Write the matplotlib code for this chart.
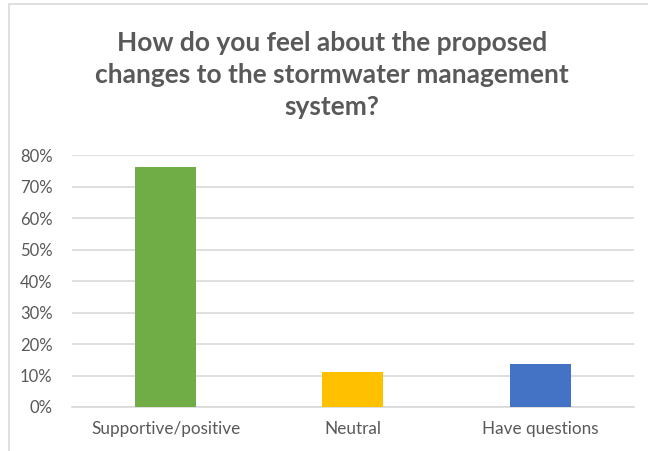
import matplotlib.pyplot as plt
from matplotlib.patches import Rectangle
from matplotlib.ticker import PercentFormatter

categories = ["Supportive/positive", "Neutral", "Have questions"]
shares = [76.2, 11.1, 13.6]
colors = ["#70AD47", "#FFC000", "#4472C4"]
yticks = [0, 10, 20, 30, 40, 50, 60, 70, 80]

plt.rcParams['font.family'] = ['Lato', 'DejaVu Sans']

fig = plt.figure(figsize=(6.48, 4.51), dpi=100)
ax = fig.add_axes([0.111, 0.0976, 0.867, 0.5584])

# chart frame
fig.patches.append(Rectangle((9 / 648, -0.1), 1.2, 1 - 4 / 451 + 0.1,
                             transform=fig.transFigure, fill=False,
                             edgecolor="#D9D9D9", linewidth=1.2))

x = range(len(categories))
ax.bar(x, shares, width=0.325, color=colors, zorder=3)

ax.set_xlim(-0.5, 2.5)
ax.set_ylim(0, 80)
ax.set_yticks(yticks)
ax.yaxis.set_major_formatter(PercentFormatter(decimals=0))
ax.set_xticks(list(x))
ax.set_xticklabels(categories)
ax.grid(axis='y', color="#D9D9D9", linewidth=1.2, zorder=0)
for s in ['top', 'right', 'left']:
    ax.spines[s].set_visible(False)
ax.spines['bottom'].set_color("#D9D9D9")
ax.spines['bottom'].set_linewidth(1.2)
ax.tick_params(length=0, labelsize=12.3, labelcolor="#595959")
ax.tick_params(axis='x', pad=10)
ax.tick_params(axis='y', pad=14, labelsize=12)

fig.text(0.512, 0.834, "How do you feel about the proposed\nchanges to the stormwater management\nsystem?",
         ha='center', va='center', fontsize=19, fontweight='bold',
         color="#595959", linespacing=1.4)

fig.savefig("out.png", dpi=100)
